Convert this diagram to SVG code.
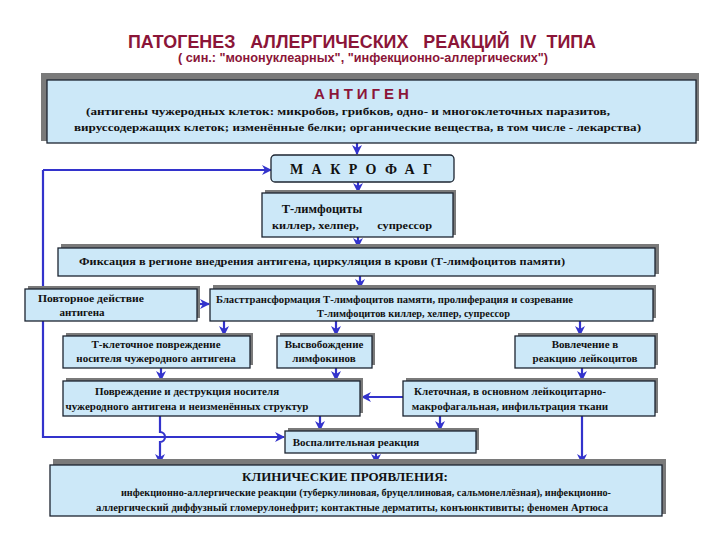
<svg xmlns="http://www.w3.org/2000/svg" width="720" height="540" viewBox="0 0 720 540">
<defs>
<marker id="ah" markerUnits="userSpaceOnUse" markerWidth="12" markerHeight="12" refX="9" refY="5" orient="auto">
<path d="M0,0 L10,5 L0,10 L3,5 z" fill="#3333CC"/>
</marker>
<style>
.box{fill:#CCE8F8;stroke:#1c2430;stroke-width:1.3}
.sh{fill:#7a7a7a}
.ln{fill:none;stroke:#3333CC;stroke-width:2.2}
.t{font-family:'Liberation Serif','DejaVu Serif',serif;font-weight:bold;font-size:11px;fill:#111}
.title{font-family:'Liberation Sans','DejaVu Sans',sans-serif;font-weight:bold;fill:#8B1538}
</style>
</defs>
<rect width="720" height="540" fill="#fff"/>
<g id="title">
<text class="title" x="128" y="48" style="font-size:18px" textLength="468" lengthAdjust="spacingAndGlyphs" xml:space="preserve">ПАТОГЕНЕЗ   АЛЛЕРГИЧЕСКИХ   РЕАКЦИЙ  IV  ТИПА</text>
<text class="title" x="178" y="62" style="font-size:12px" textLength="370" lengthAdjust="spacingAndGlyphs">( син.: "мононуклеарных", "инфекционно-аллергических")</text>
</g>
<g id="connectors">
<path class="ln" d="M357,143 V154" marker-end="url(#ah)"/>
<path class="ln" d="M43,170 H271" marker-end="url(#ah)"/>
<path class="ln" d="M43,170 V437 H284" marker-end="url(#ah)"/>
<path class="ln" d="M358,182 V192" marker-end="url(#ah)"/>
<path class="ln" d="M358,237 V247" marker-end="url(#ah)"/>
<path class="ln" d="M360,276 V288" marker-end="url(#ah)"/>
<path class="ln" d="M197,304 H209" marker-end="url(#ah)"/>
<path class="ln" d="M224,321 V335" marker-end="url(#ah)"/>
<path class="ln" d="M336,321 V335" marker-end="url(#ah)"/>
<path class="ln" d="M580,321 V335" marker-end="url(#ah)"/>
<path class="ln" d="M161,368 V380" marker-end="url(#ah)"/>
<path class="ln" d="M336,368 V380" marker-end="url(#ah)"/>
<path class="ln" d="M582,368 V380" marker-end="url(#ah)"/>
<path class="ln" d="M403,397 H362" marker-end="url(#ah)"/>
<path class="ln" d="M320,416 V430" marker-end="url(#ah)"/>
<path class="ln" d="M440,416 V430" marker-end="url(#ah)"/>
<path class="ln" d="M160,416 V432 A5,5 0 0 1 160,442 V463" marker-end="url(#ah)"/>
<path class="ln" d="M376,453 V463" marker-end="url(#ah)"/>
<path class="ln" d="M582,416 V463" marker-end="url(#ah)"/>
</g>
<g id="antigen">
<rect class="sh" x="41" y="73" width="658" height="68"/>
<rect class="box" x="47" y="80" width="649" height="63"/>
<text class="title" x="314" y="99" style="font-size:15px;letter-spacing:4px">АНТИГЕН</text>
<text class="t" x="86" y="115" textLength="524" lengthAdjust="spacingAndGlyphs">(антигены чужеродных клеток: микробов, грибков, одно- и многоклеточных паразитов,</text>
<text class="t" x="74" y="131" textLength="567" lengthAdjust="spacingAndGlyphs">вируссодержащих клеток; изменённые белки; органические вещества, в том числе - лекарства)</text>
</g>
<g id="macrophage">
<rect class="box" x="271" y="155" width="183" height="27" rx="4"/>
<text class="t" x="290" y="174" style="font-size:14px" textLength="142" lengthAdjust="spacing">МАКРОФАГ</text>
</g>
<g id="tlymph">
<rect class="sh" x="265" y="190" width="191" height="45"/>
<rect class="box" x="262" y="193" width="191" height="44"/>
<text class="t" x="322" y="213" style="font-size:12.5px" text-anchor="middle">Т-лимфоциты</text>
<text class="t" x="272" y="229" textLength="160" lengthAdjust="spacingAndGlyphs" xml:space="preserve">киллер, хелпер,      супрессор</text>
</g>
<g id="fixation">
<rect class="sh" x="61" y="244" width="598" height="30"/>
<rect class="box" x="58" y="248" width="597" height="28"/>
<text class="t" x="79" y="265" textLength="486" lengthAdjust="spacingAndGlyphs">Фиксация в регионе внедрения антигена, циркуляция в крови (Т-лимфоцитов памяти)</text>
</g>
<g id="repeat">
<rect class="sh" x="28" y="286" width="172" height="32"/>
<rect class="box" x="25" y="289" width="172" height="32"/>
<text class="t" x="38" y="302" textLength="106" lengthAdjust="spacingAndGlyphs">Повторное действие</text>
<text class="t" x="82" y="316" text-anchor="middle">антигена</text>
</g>
<g id="blast">
<rect class="sh" x="213" y="285" width="443" height="33"/>
<rect class="box" x="210" y="289" width="443" height="32"/>
<text class="t" x="216" y="303" textLength="357" lengthAdjust="spacingAndGlyphs">Бласттрансформация Т-лимфоцитов памяти, пролиферация и созревание</text>
<text class="t" x="317" y="317" textLength="193" lengthAdjust="spacingAndGlyphs">Т-лимфоцитов киллер, хелпер, супрессор</text>
</g>
<g id="tcell">
<rect class="sh" x="66" y="333" width="187" height="32"/>
<rect class="box" x="63" y="336" width="187" height="32"/>
<text class="t" x="156" y="348" text-anchor="middle">Т-клеточное повреждение</text>
<text class="t" x="156" y="362" text-anchor="middle">носителя чужеродного антигена</text>
</g>
<g id="release">
<rect class="sh" x="280" y="333" width="95" height="32"/>
<rect class="box" x="277" y="336" width="95" height="32"/>
<text class="t" x="324" y="348" text-anchor="middle">Высвобождение</text>
<text class="t" x="324" y="362" text-anchor="middle">лимфокинов</text>
</g>
<g id="leuko">
<rect class="sh" x="518" y="333" width="140" height="32"/>
<rect class="box" x="515" y="336" width="140" height="32"/>
<text class="t" x="585" y="348" text-anchor="middle">Вовлечение в</text>
<text class="t" x="585" y="362" text-anchor="middle">реакцию лейкоцитов</text>
</g>
<g id="damage">
<rect class="sh" x="66" y="378" width="297" height="35"/>
<rect class="box" x="63" y="381" width="297" height="35"/>
<text class="t" x="187" y="395" text-anchor="middle">Повреждение и деструкция носителя</text>
<text class="t" x="187" y="410" text-anchor="middle">чужеродного антигена и неизменённых структур</text>
</g>
<g id="infiltr">
<rect class="sh" x="406" y="378" width="252" height="35"/>
<rect class="box" x="403" y="381" width="252" height="35"/>
<text class="t" x="510" y="395" text-anchor="middle">Клеточная, в основном лейкоцитарно-</text>
<text class="t" x="510" y="410" text-anchor="middle">макрофагальная, инфильтрация ткани</text>
</g>
<g id="inflam">
<rect class="sh" x="288" y="428" width="191" height="22"/>
<rect class="box" x="285" y="431" width="191" height="22"/>
<text class="t" x="356" y="446" text-anchor="middle">Воспалительная реакция</text>
</g>
<g id="clinical">
<rect class="sh" x="53" y="459" width="613" height="55"/>
<rect class="box" x="50" y="465" width="612" height="51"/>
<text class="t" x="345" y="481" style="font-size:13px" text-anchor="middle">КЛИНИЧЕСКИЕ ПРОЯВЛЕНИЯ:</text>
<text class="t" x="121" y="496" textLength="490" lengthAdjust="spacingAndGlyphs">инфекционно-аллергические реакции (туберкулиновая, бруцеллиновая, сальмонеллёзная), инфекционно-</text>
<text class="t" x="96" y="511" textLength="512" lengthAdjust="spacingAndGlyphs">аллергический диффузный гломерулонефрит; контактные дерматиты, конъюнктивиты; феномен Артюса</text>
</g>
</svg>
